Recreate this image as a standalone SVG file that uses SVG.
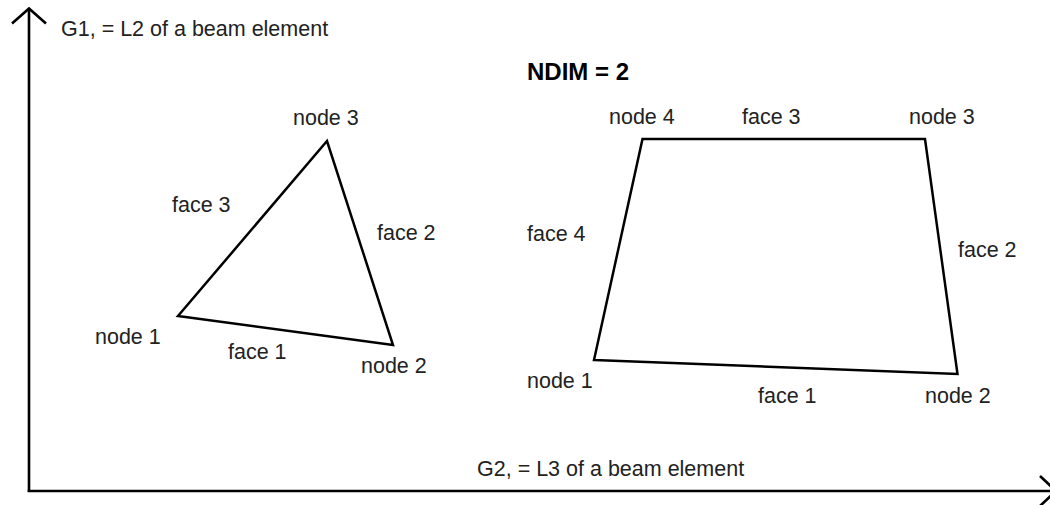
<svg xmlns="http://www.w3.org/2000/svg" width="1050" height="505" viewBox="0 0 1050 505">
<style>
.lbl{font-family:"Liberation Sans",Arial,sans-serif;font-size:21.5px;fill:#222}
.ttl{font-family:"Liberation Sans",Arial,sans-serif;font-size:24px;font-weight:bold;fill:#000}
.edge{fill:none;stroke:#000;stroke-width:2.5;stroke-linejoin:miter;stroke-linecap:square}
.axis{fill:none;stroke:#000;stroke-width:2.6;stroke-linecap:butt}
</style>
<rect width="1050" height="505" fill="#fff"/>
<g id="axes">
<line class="axis" x1="29" y1="8" x2="29" y2="492"/>
<line class="axis" x1="27.7" y1="491" x2="1050" y2="491"/>
<polyline class="axis" points="12,23.5 29,8.5 46,23.5"/>
<polyline class="axis" points="1040,476 1056,491 1040,506"/>
<text class="lbl" x="61" y="36">G1, = L2 of a beam element</text>
<text class="lbl" x="477" y="476">G2, = L3 of a beam element</text>
</g>
<text class="ttl" x="527" y="80">NDIM = 2</text>
<g id="triangle">
<polygon class="edge" points="178,316 393,345 327,141"/>
<text class="lbl" x="293" y="125">node 3</text>
<text class="lbl" x="172" y="212">face 3</text>
<text class="lbl" x="377" y="240">face 2</text>
<text class="lbl" x="95" y="344">node 1</text>
<text class="lbl" x="228" y="359">face 1</text>
<text class="lbl" x="361" y="373">node 2</text>
</g>
<g id="quad">
<polygon class="edge" points="594,360 957.5,374 925,139 642.5,139"/>
<text class="lbl" x="609" y="124">node 4</text>
<text class="lbl" x="742" y="124">face 3</text>
<text class="lbl" x="909" y="124">node 3</text>
<text class="lbl" x="527" y="241">face 4</text>
<text class="lbl" x="958" y="257">face 2</text>
<text class="lbl" x="527" y="388">node 1</text>
<text class="lbl" x="758" y="403">face 1</text>
<text class="lbl" x="925" y="403">node 2</text>
</g>
</svg>
